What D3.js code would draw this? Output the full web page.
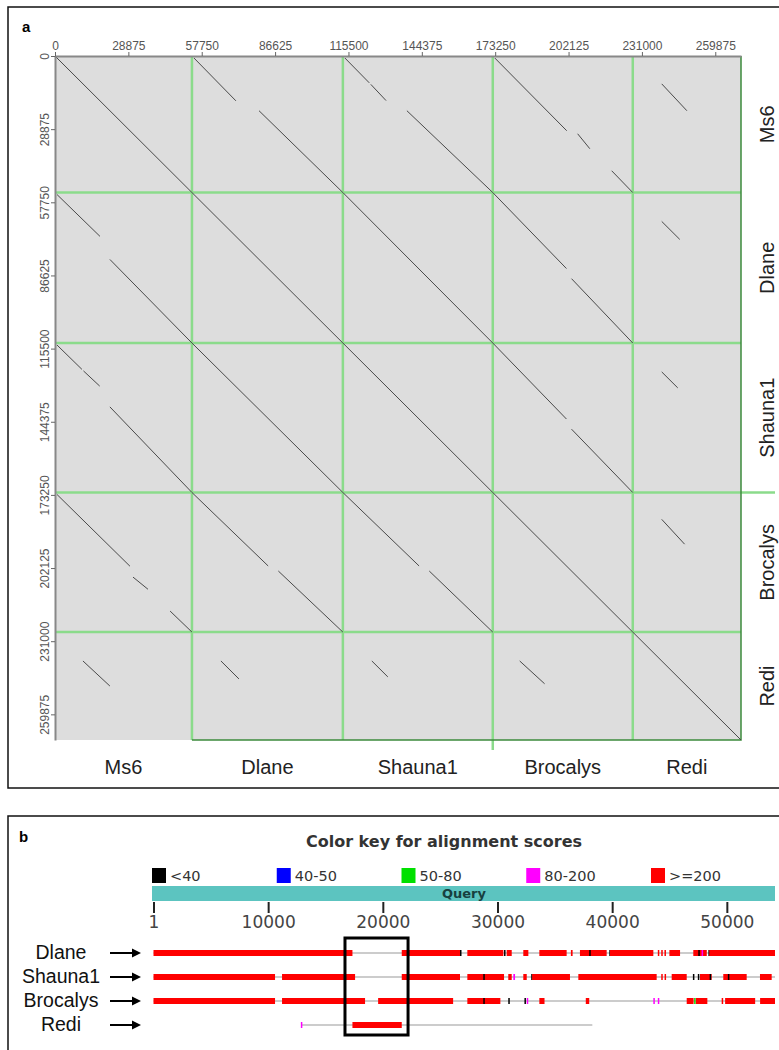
<!DOCTYPE html>
<html>
<head>
<meta charset="utf-8">
<script src="https://cdn.jsdelivr.net/npm/d3@7"></script>
<style>
  body { margin: 0; background: #fff; }
  svg { display: block; }
</style>
</head>
<body>
<script>
// ---- data: dot plot ------------------------------------------------

const GENOMES = ['Ms6', 'Dlane', 'Shauna1', 'Brocalys', 'Redi']
const GENOME_LENGTHS = [53900, 59400, 59000, 55100, 42600]
const DOT_TICKS = [0, 28875, 57750, 86625, 115500, 144375, 173250, 202125, 231000, 259875]

// matching segments between two genomes: [startA, endA, startB, endB] (bp)
const MS6_DLANE = [[800, 17700, 800, 17300], [21600, 53900, 26400, 59400]]
const MS6_SHAUNA1 = [[800, 10600, 800, 10400], [11200, 17600, 11000, 17000], [21600, 53900, 25200, 59000]]
const MS6_BROCALYS = [[800, 29500, 800, 29100], [30700, 36600, 33400, 38200], [45300, 53900, 46800, 55100]]
const MS6_REDI = [[11000, 21600, 11400, 21300]]
const DLANE_SHAUNA1 = [[0, 59400, 0, 59000]]
const DLANE_BROCALYS = [[0, 30000, 0, 29000], [34000, 59400, 31000, 55100]]
const DLANE_REDI = [[11400, 18500, 11400, 18500]]
const SHAUNA1_BROCALYS = [[0, 30000, 0, 29000], [34000, 59000, 31000, 55100]]
const SHAUNA1_REDI = [[11400, 17700, 11400, 17700]]
const BROCALYS_REDI = [[10600, 20400, 11400, 20400]]

const PAIRS = [
  [0, 1, MS6_DLANE], [0, 2, MS6_SHAUNA1], [0, 3, MS6_BROCALYS], [0, 4, MS6_REDI],
  [1, 2, DLANE_SHAUNA1], [1, 3, DLANE_BROCALYS], [1, 4, DLANE_REDI],
  [2, 3, SHAUNA1_BROCALYS], [2, 4, SHAUNA1_REDI], [3, 4, BROCALYS_REDI]
]

// ---- data: alignment overview ---------------------------------------

const SCORE_BINS = ['<40', '40-50', '50-80', '80-200', '>=200']
const QUERY_TICKS = [1, 10000, 20000, 30000, 40000, 50000]
const QUERY_LENGTH = 54200
const HIT_ROWS = ['Dlane', 'Shauna1', 'Brocalys', 'Redi']
const HIT_SPANS = [[1, 54200], [1, 54200], [1, 54200], [12900, 38270]]

// [start, end, score bin]
const DLANE_HITS = [
  [1, 17350, 4], [21650, 26730, 4], [26730, 26830, 0], [27370, 30510, 4], [30570, 30640, 0],
  [30800, 31240, 4], [32250, 32690, 4], [33650, 36030, 4], [36400, 36550, 4],
  [37190, 39520, 4], [38000, 38080, 0], [39750, 39810, 0], [39810, 43590, 4],
  [43980, 44080, 4], [44280, 44370, 4], [44560, 44660, 4], [44990, 45920, 4],
  [47075, 48250, 4], [47510, 47590, 0], [47800, 47880, 3], [48390, 48470, 0], [48470, 54200, 4]
]
const SHAUNA1_HITS = [
  [1, 10600, 4], [11210, 17580, 4], [21650, 26730, 4], [27370, 30570, 4], [28760, 28840, 0],
  [30940, 31240, 4], [31380, 31530, 3], [32250, 32550, 4], [32940, 33020, 0], [33020, 36320, 4],
  [37050, 43880, 4], [44280, 44360, 4], [44570, 44650, 4], [45190, 46500, 4], [47040, 47110, 0],
  [47470, 47550, 0], [47660, 48680, 4], [48500, 48580, 0], [49690, 51730, 4], [50090, 50170, 0],
  [52890, 53910, 4]
]
const BROCALYS_HITS = [
  [1, 10600, 4], [11210, 18450, 4], [19590, 26130, 4], [27370, 30250, 4], [28760, 28840, 0],
  [30940, 31020, 0], [32350, 32430, 0], [32550, 32650, 3], [33650, 34100, 4], [37700, 38000, 4],
  [43590, 43680, 3], [43980, 44070, 3], [46500, 47100, 4], [47150, 47230, 2], [47300, 48300, 4],
  [49550, 49650, 4], [49850, 52470, 4], [52900, 54200, 4]
]
const REDI_HITS = [[12850, 12950, 3], [17350, 21650, 4]]
const ROW_HITS = [DLANE_HITS, SHAUNA1_HITS, BROCALYS_HITS, REDI_HITS]

// highlighted query region
const BOX_RANGE = [16700, 22200]

// ---- styles ---------------------------------------------------------

const WIDTH = 779
const HEIGHT = 1050
const SCORE_COLORS = ['#000000', '#0000ff', '#00e000', '#ff00ff', '#ff0000']
const SANS = '"Liberation Sans", Arial, sans-serif'
const VERDANA = '"DejaVu Sans", Verdana, sans-serif'
const GRID_GREEN = '#8bdb8b'

// ====================================================================

const svg = d3.select('body').append('svg')
  .attr('width', WIDTH)
  .attr('height', HEIGHT)

svg.append('rect').attr('width', WIDTH).attr('height', HEIGHT).attr('fill', '#fff')

// ---- panel a --------------------------------------------------------

const total = d3.sum(GENOME_LENGTHS)
const offsets = [0, ...d3.cumsum(GENOME_LENGTHS)]

const x = d3.scaleLinear().domain([0, total]).range([55, 741])
const y = d3.scaleLinear().domain([0, total]).range([56, 740])

svg.append('rect')
  .attr('x', 8).attr('y', 7).attr('width', 776).attr('height', 781)
  .attr('fill', 'none').attr('stroke', '#111').attr('stroke-width', 1.5)

svg.append('text')
  .attr('x', 22).attr('y', 32)
  .style('font', `bold 15px ${SANS}`)
  .text('a')

svg.append('rect')
  .attr('x', x(0)).attr('y', y(0))
  .attr('width', x(total) - x(0)).attr('height', y(total) - y(0))
  .attr('fill', '#dddddd')

// green separators between genomes (the Shauna1/Brocalys one overshoots a bit)
const inner = offsets.slice(1, -1)
svg.append('g').selectAll('line').data(inner).join('line')
  .attr('x1', d => x(d)).attr('x2', d => x(d))
  .attr('y1', y(0)).attr('y2', (d, i) => i === 2 ? y(total) + 10 : y(total))
  .attr('stroke', GRID_GREEN).attr('stroke-width', 2.5)
svg.append('g').selectAll('line').data(inner).join('line')
  .attr('y1', d => y(d)).attr('y2', d => y(d))
  .attr('x1', x(0)).attr('x2', (d, i) => i === 2 ? x(total) + 34 : x(total))
  .attr('stroke', GRID_GREEN).attr('stroke-width', 2.5)

// plot frame: right and bottom in dark green
svg.append('path')
  .attr('d', `M${x(total)},${y(0)}V${y(total)}H${x(offsets[1])}`)
  .attr('fill', 'none').attr('stroke', '#3c8a3c').attr('stroke-width', 1.5)

// matches: self diagonals + each pair drawn in both triangles
const segs = []
GENOME_LENGTHS.forEach((len, i) => segs.push({ col: i, row: i, s: [0, len, 0, len] }))
PAIRS.forEach(([a, b, list]) => {
  list.forEach(s => {
    segs.push({ col: b, row: a, s: [s[2], s[3], s[0], s[1]] })
    segs.push({ col: a, row: b, s: s })
  })
})

svg.append('g').selectAll('line').data(segs).join('line')
  .attr('x1', d => x(offsets[d.col] + d.s[0]))
  .attr('x2', d => x(offsets[d.col] + d.s[1]))
  .attr('y1', d => y(offsets[d.row] + d.s[2]))
  .attr('y2', d => y(offsets[d.row] + d.s[3]))
  .attr('stroke', '#4a4a4a').attr('stroke-width', 1)

// axes
const topAxis = svg.append('g')
  .attr('transform', `translate(0,${y(0)})`)
  .call(d3.axisTop(x).tickValues(DOT_TICKS).tickFormat(d3.format('d')).tickSize(4).tickSizeOuter(0).tickPadding(2))
const leftAxis = svg.append('g')
  .attr('transform', `translate(${x(0)},0)`)
  .call(d3.axisLeft(y).tickValues(DOT_TICKS).tickFormat(d3.format('d')).tickSize(4).tickSizeOuter(0))

;[topAxis, leftAxis].forEach(g => {
  g.select('.domain').attr('stroke', '#888').attr('stroke-width', 2)
  g.selectAll('.tick line').attr('stroke', '#666')
  g.selectAll('.tick text').style('font', `12px ${SANS}`).attr('fill', '#555')
})
leftAxis.selectAll('.tick text')
  .attr('transform', 'rotate(-90)')
  .attr('x', 0).attr('y', -6).attr('dy', 0)
  .style('text-anchor', 'middle')

// genome names
const mids = GENOME_LENGTHS.map((len, i) => offsets[i] + len / 2)
svg.append('g').selectAll('text').data(GENOMES).join('text')
  .attr('x', (d, i) => x(mids[i])).attr('y', 774)
  .attr('text-anchor', 'middle')
  .style('font', `20px ${SANS}`).attr('fill', '#222')
  .text(d => d)
svg.append('g').selectAll('text').data(GENOMES).join('text')
  .attr('transform', (d, i) => `translate(774,${y(mids[i])}) rotate(-90)`)
  .attr('text-anchor', 'middle')
  .style('font', `20px ${SANS}`).attr('fill', '#222')
  .text(d => d)

// ---- panel b --------------------------------------------------------

const xq = d3.scaleLinear().domain([1, QUERY_LENGTH]).range([153.5, 775])
const yr = d3.scalePoint().domain(HIT_ROWS).range([953, 1025])

svg.append('rect')
  .attr('x', 8).attr('y', 816).attr('width', 780).attr('height', 260)
  .attr('fill', 'none').attr('stroke', '#111').attr('stroke-width', 1.5)

svg.append('text')
  .attr('x', 19).attr('y', 842)
  .style('font', `bold 15px ${SANS}`)
  .text('b')

svg.append('text')
  .attr('x', 444).attr('y', 847)
  .attr('text-anchor', 'middle')
  .style('font', `bold 16px ${VERDANA}`).attr('fill', '#333')
  .text('Color key for alignment scores')

const legendX = d3.scalePoint().domain(SCORE_BINS).range([152, 651])
const legend = svg.append('g').selectAll('g').data(SCORE_BINS).join('g')
  .attr('transform', d => `translate(${legendX(d)},868)`)
legend.append('rect')
  .attr('width', 14).attr('height', 15)
  .attr('fill', (d, i) => SCORE_COLORS[i])
legend.append('text')
  .attr('x', 18).attr('y', 13)
  .style('font', `14.5px ${VERDANA}`).attr('fill', '#333')
  .text(d => d)

// query bar
svg.append('rect')
  .attr('x', xq(1) - 1.5).attr('y', 886)
  .attr('width', xq(QUERY_LENGTH) - xq(1) + 1.5).attr('height', 15)
  .attr('fill', '#5cc4c0')
svg.append('text')
  .attr('x', 464).attr('y', 898)
  .attr('text-anchor', 'middle')
  .style('font', `bold 13px ${VERDANA}`).attr('fill', '#17403f')
  .text('Query')

const qAxis = svg.append('g')
  .attr('transform', 'translate(0,902)')
  .call(d3.axisBottom(xq).tickValues(QUERY_TICKS).tickFormat(d3.format('d')).tickSize(11).tickSizeOuter(0).tickPadding(3))
qAxis.select('.domain').remove()
qAxis.selectAll('.tick line').attr('stroke', '#222').attr('stroke-width', 2)
qAxis.selectAll('.tick text').style('font', `17px ${VERDANA}`).attr('fill', '#444')

// rows
const rows = svg.append('g').selectAll('g').data(HIT_ROWS).join('g')
  .attr('transform', d => `translate(0,${yr(d)})`)

rows.append('text')
  .attr('x', 61).attr('y', 6)
  .attr('text-anchor', 'middle')
  .style('font', `19.5px ${SANS}`).attr('fill', '#111')
  .text(d => d)

rows.append('line')
  .attr('x1', 110).attr('x2', 134)
  .attr('stroke', '#000').attr('stroke-width', 2)
rows.append('path')
  .attr('d', 'M132,-4.5L141,0L132,4.5Z')
  .attr('fill', '#000')

rows.append('line')
  .attr('x1', (d, i) => xq(HIT_SPANS[i][0]))
  .attr('x2', (d, i) => xq(HIT_SPANS[i][1]))
  .attr('stroke', '#999').attr('stroke-width', 1)

rows.each(function (d, i) {
  d3.select(this).selectAll('rect').data(ROW_HITS[i]).join('rect')
    .attr('x', h => xq(h[0]))
    .attr('width', h => Math.max(1.5, xq(h[1]) - xq(h[0])))
    .attr('y', -3).attr('height', 6)
    .attr('fill', h => SCORE_COLORS[h[2]])
})

// box around the region of interest
svg.append('rect')
  .attr('x', xq(BOX_RANGE[0])).attr('y', 938)
  .attr('width', xq(BOX_RANGE[1]) - xq(BOX_RANGE[0])).attr('height', 97)
  .attr('fill', 'none').attr('stroke', '#000').attr('stroke-width', 3)
</script>
</body>
</html>
